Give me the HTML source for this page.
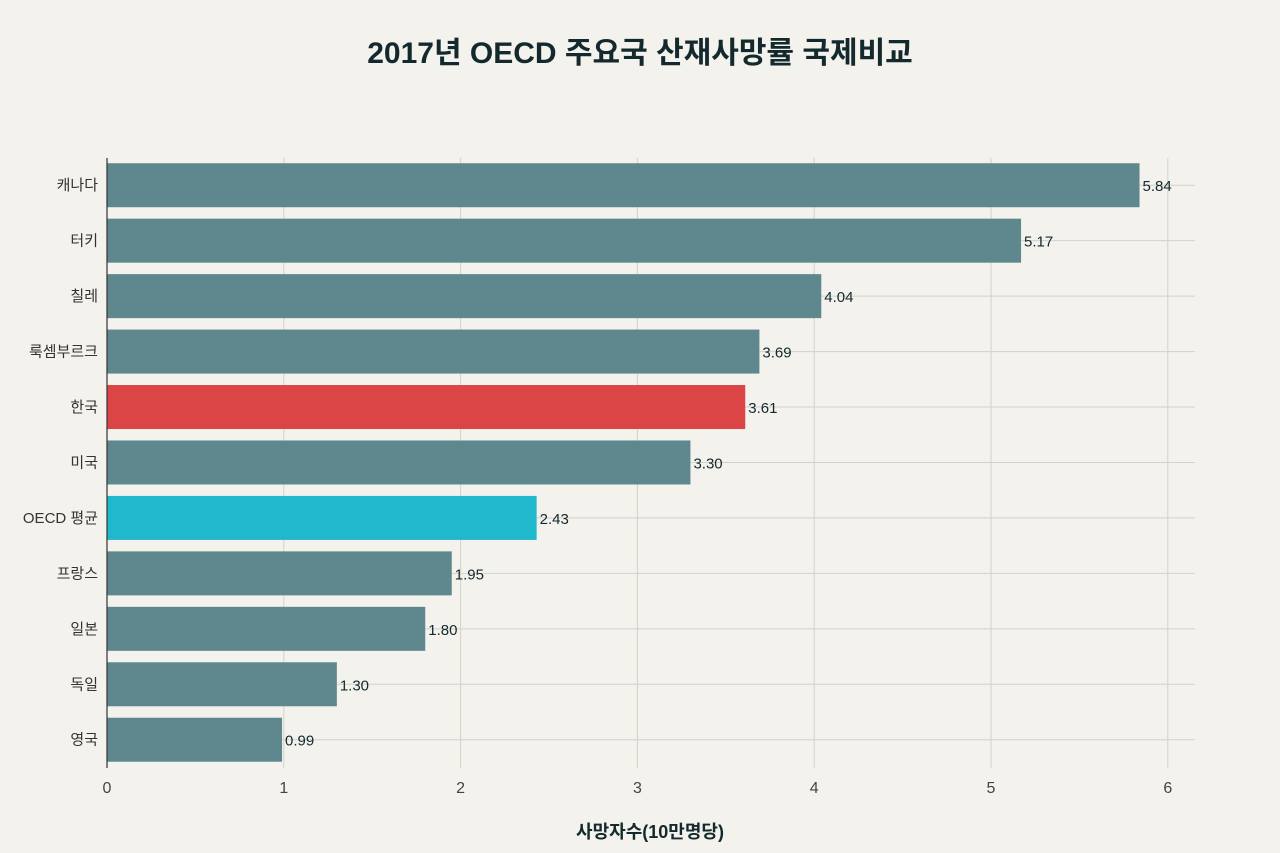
<!DOCTYPE html>
<html><head><meta charset="utf-8">
<style>
html,body{margin:0;padding:0;background:#f3f2ec;}
svg{display:block;font-family:"Liberation Sans","Noto Sans CJK KR",sans-serif;}
</style></head><body>
<svg id="chart" width="1280" height="853" viewBox="0 0 1280 853">
<rect width="1280" height="853" fill="#f3f2ec"/>
<text x="640" y="63" text-anchor="middle" font-size="30" font-weight="bold" fill="#13292e">2017년 OECD 주요국 산재사망률 국제비교</text>
<g id="grid"></g>
<g id="bars"></g>
<g id="labels"></g>
<line x1="107" y1="158" x2="107" y2="768" stroke="#333" stroke-width="1.2"/>
<text x="650" y="838" text-anchor="middle" font-size="18" font-weight="bold" fill="#13292e">사망자수(10만명당)</text>
</svg>
<script>
const categories=["캐나다","터키","칠레","룩셈부르크","한국","미국","OECD 평균","프랑스","일본","독일","영국"];
const values=[5.84,5.17,4.04,3.69,3.61,3.30,2.43,1.95,1.80,1.30,0.99];
const valueLabels=["5.84","5.17","4.04","3.69","3.61","3.30","2.43","1.95","1.80","1.30","0.99"];
const ticks=[0,1,2,3,4,5,6];
const NS="http://www.w3.org/2000/svg";
const x0=107,pxPerUnit=176.8,top0=157.5,rowH=55.45,barH=44;
function xs(v){return x0+v*pxPerUnit;}
function ys(i){return top0+rowH*(i+0.5);}
function mk(tag,attrs,parent){const e=document.createElementNS(NS,tag);for(const k in attrs)e.setAttribute(k,attrs[k]);parent.appendChild(e);return e;}
const grid=document.getElementById('grid'),bars=document.getElementById('bars'),labels=document.getElementById('labels');
ticks.forEach(t=>{
 const l=mk('line',{x1:xs(t),x2:xs(t),y1:158,y2:768,stroke:'#d2d2cc','stroke-width':1},grid);
 
 
 const tx=mk('text',{x:xs(t),y:793,'text-anchor':'middle','font-size':16,fill:'#444'},grid);
 tx.textContent=t;
 
 
});
categories.forEach((c,i)=>{
 const y=ys(i);
 const g=mk('line',{x1:107,x2:1195,y1:y,y2:y,stroke:'#d2d2cc','stroke-width':1},grid);
 
 
 const col=c==="한국"?'#dc4546':(c==="OECD 평균"?'#1fb8cc':'#5e888d');
 const r=mk('rect',{x:x0,y:y-barH/2,width:xs(values[i])-x0,height:barH,fill:col},bars);
 
 
 const t=mk('text',{x:98,y:y+5,'text-anchor':'end','font-size':15,fill:'#333'},labels);
 t.textContent=c;
 
 
 const v=mk('text',{x:xs(values[i])+3,y:y+6,'font-size':15,fill:'#13292e'},labels);
 v.textContent=valueLabels[i];
 
 
});
</script>
</body></html>
